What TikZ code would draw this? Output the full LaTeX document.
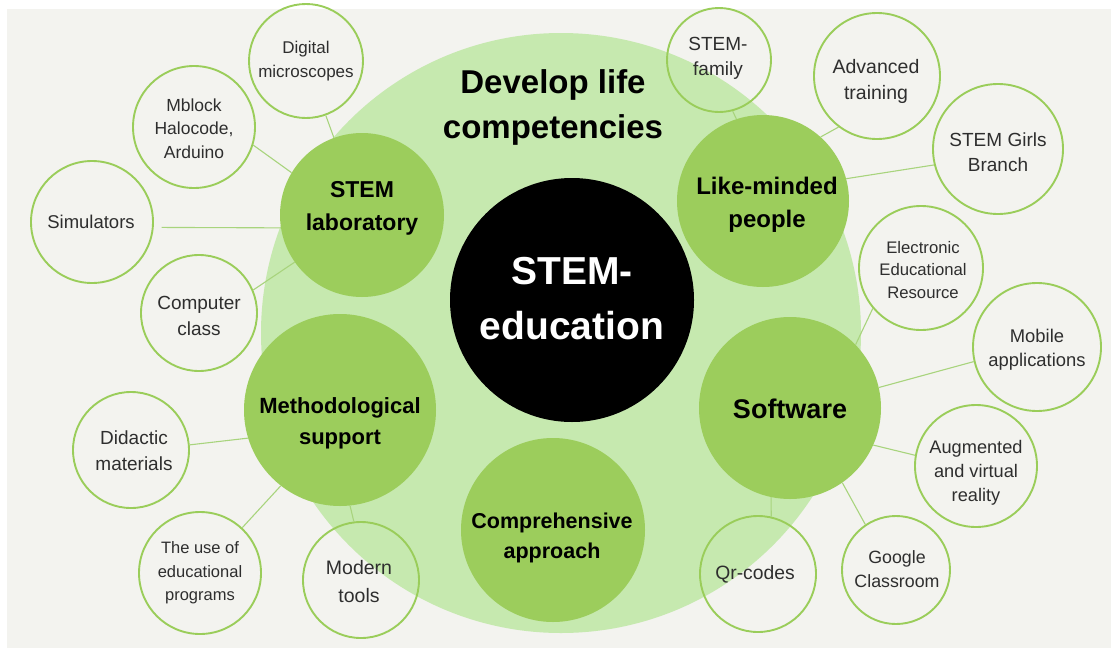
\documentclass[tikz,border=0pt]{standalone}
\usepackage{fontspec}
\setmainfont{Liberation Sans}
\definecolor{bgc}{HTML}{F3F3EF}
\definecolor{bigc}{HTML}{C6E9AF}
\definecolor{midc}{HTML}{9CCD5C}
\definecolor{olc}{HTML}{9ACD5A}
\definecolor{conc}{HTML}{A8D47D}
\definecolor{txtc}{HTML}{2E2E2E}
\begin{document}
\begin{tikzpicture}[x=1pt,y=-1pt,
  bigcirc/.style={circle, fill=bigc, inner sep=0pt, minimum size=#1pt},
  midcirc/.style={circle, fill=midc, inner sep=0pt, minimum size=#1pt},
  ocirc/.style={circle, draw=olc, line width=1.9pt, inner sep=0pt, minimum size=#1pt},
  otext/.style={text=txtc, align=center, inner sep=0pt, font=\fontsize{18}{24}\selectfont},
  btext/.style={text=black, align=center, inner sep=0pt, font=\bfseries\fontsize{23}{33}\selectfont},
  conn/.style={draw=conc, line width=1.1pt}]
\useasboundingbox (0,0) rectangle (1111,648);
\fill[white] (0,0) rectangle (1111,648);
\fill[bgc] (7,9) rectangle (1111,648);

% big circle and title
\node[bigcirc=600] (big) at (561,333) {};
\node[btext, font=\bfseries\fontsize{33}{45}\selectfont] (title) at (553,107) {Develop life\\competencies};

% central circle
\node[circle, fill=black, inner sep=0pt, minimum size=244pt] (core) at (572,300) {};
\node[text=white, align=center, inner sep=0pt, font=\bfseries\fontsize{39}{55}\selectfont] (coret) at (572,299) {STEM-\\education};

% green circles
\node[midcirc=164] (lab) at (362,215) {};
\node[btext] (labt) at (362,208.5) {STEM\\laboratory};
\node[midcirc=192] (meth) at (340,410) {};
\node[btext, font=\bfseries\fontsize{22}{31}\selectfont] (metht) at (340,423) {Methodological\\support};
\node[midcirc=184] (comp) at (553,530) {};
\node[btext, font=\bfseries\fontsize{21.5}{30}\selectfont] (compt) at (552,538) {Comprehensive\\approach};
\node[midcirc=182] (soft) at (790,408) {};
\node[btext, font=\bfseries\fontsize{27}{33}\selectfont] (softt) at (790,409) {Software};
\node[midcirc=172] (like) at (763,201) {};
\node[btext, font=\bfseries\fontsize{24}{33}\selectfont] (liket) at (767,204.5) {Like-minded\\people};

% outline circles
\node[ocirc=114] (dm) at (306,61) {};
\node[otext, font=\fontsize{17}{24}\selectfont] (dmt) at (306,61) {Digital\\microscopes};
\node[ocirc=122] (mb) at (194,127) {};
\node[otext, font=\fontsize{17.5}{23.5}\selectfont] (mbt) at (194,128.5) {Mblock\\Halocode,\\Arduino};
\node[ocirc=122] (sim) at (92,222) {};
\node[otext, font=\fontsize{18.5}{24}\selectfont] (simt) at (91,221.5) {Simulators};
\node[ocirc=116] (cc) at (199,313) {};
\node[otext, font=\fontsize{19}{26}\selectfont] (cct) at (199,316) {Computer\\class};
\node[ocirc=116] (dd) at (131,450) {};
\node[otext, font=\fontsize{19}{26}\selectfont] (ddt) at (134,451) {Didactic\\materials};
\node[ocirc=122] (ue) at (200,573) {};
\node[otext, font=\fontsize{16.5}{23.5}\selectfont] (uet) at (200,573) {The use of\\educational\\programs};
\node[ocirc=116] (mt) at (361,580) {};
\node[otext, font=\fontsize{19.5}{28}\selectfont] (mtt) at (359,582) {Modern\\tools};
\node[ocirc=116] (qr) at (758,574) {};
\node[otext, font=\fontsize{19.3}{24}\selectfont] (qrt) at (755,574) {Qr-codes};
\node[ocirc=108] (gc) at (896,570) {};
\node[otext, font=\fontsize{17.8}{24}\selectfont] (gct) at (897,569) {Google\\Classroom};
\node[ocirc=122] (ar) at (976,466) {};
\node[otext, font=\fontsize{18.2}{24}\selectfont] (art) at (976,473) {Augmented\\and virtual\\reality};
\node[ocirc=128] (ma) at (1037,347) {};
\node[otext, font=\fontsize{18.4}{24}\selectfont] (mat) at (1037,349.5) {Mobile\\applications};
\node[ocirc=124] (eer) at (921,268) {};
\node[otext, font=\fontsize{16.7}{22.5}\selectfont] (eert) at (923,270) {Electronic\\Educational\\Resource};
\node[ocirc=130] (sg) at (998,149) {};
\node[otext, font=\fontsize{19}{25}\selectfont] (sgt) at (998,152) {STEM Girls\\Branch};
\node[ocirc=126] (at) at (877,76) {};
\node[otext, font=\fontsize{19.5}{26}\selectfont] (att) at (876,81) {Advanced\\training};
\node[ocirc=104] (sf) at (719,60) {};
\node[otext, font=\fontsize{19}{25}\selectfont] (sft) at (718,58.5) {STEM-\\family};

% connectors
\draw[conn] (dm) -- (lab);
\draw[conn] (mb.-17) -- (lab.149);
\draw[conn, shorten <=8pt] (sim.-5.6) -- (lab.189);
\draw[conn] (cc.23) -- (lab.215);
\draw[conn] (dd.5) -- (meth.197);
\draw[conn] (ue.47) -- (meth.232);
\draw[conn] (mt.97) -- (meth.-84);
\draw[conn] (qr.77) -- (soft.-102);
\draw[conn] (gc.124) -- (soft.-55);
\draw[conn] (ar.170) -- (soft.-24);
\draw[conn] (ma.193) -- (soft.13);
\draw[conn] (eer.220) -- (soft.44);
\draw[conn] (sg.194) -- (like.15.5);
\draw[conn] (at.233) -- (like.48);
\draw[conn] (sf.-75) -- (like.108);
\end{tikzpicture}
\end{document}
